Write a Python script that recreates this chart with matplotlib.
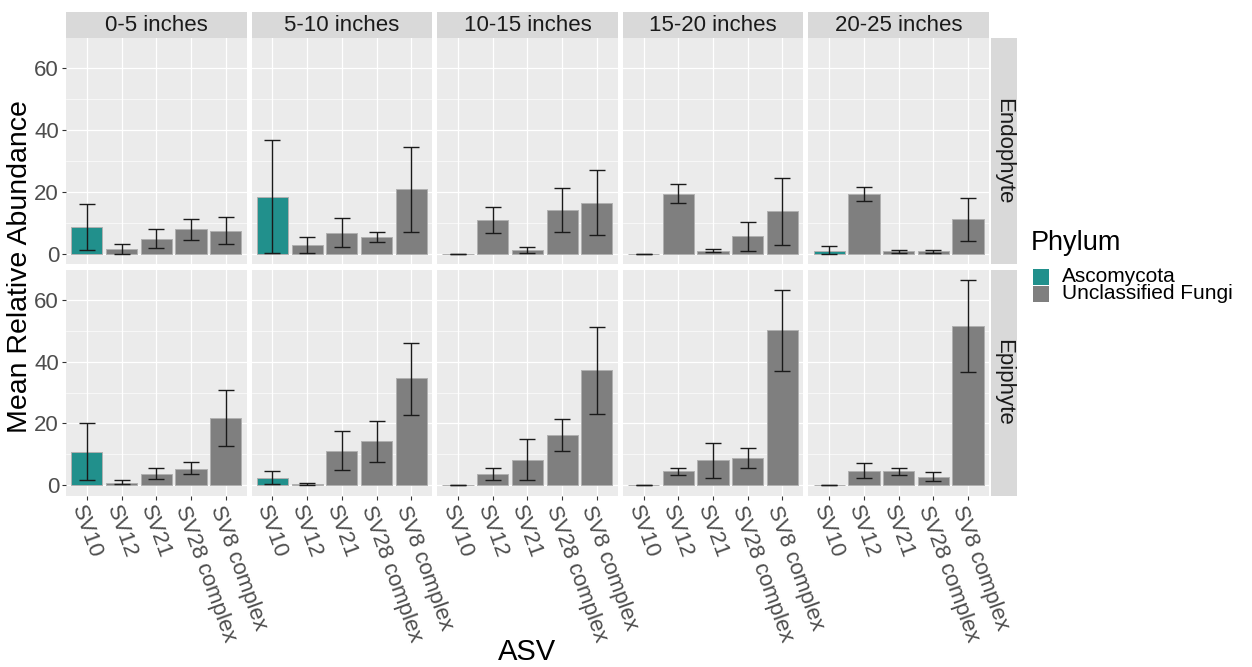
import matplotlib
matplotlib.use("Agg")
import matplotlib.pyplot as plt
from matplotlib.patches import Rectangle
import numpy as np

plt.rcParams['font.family'] = ['Liberation Sans', 'DejaVu Sans']

asv = ["SV10", "SV12", "SV21", "SV28 complex", "SV8 complex"]
asv_phylum = ["Ascomycota", "Unclassified Fungi", "Unclassified Fungi",
              "Unclassified Fungi", "Unclassified Fungi"]
depths = ["0-5 inches", "5-10 inches", "10-15 inches", "15-20 inches", "20-25 inches"]
niches = ["Endophyte", "Epiphyte"]

endo_mean = [[8.7, 1.6, 5.0, 8.1, 7.5],
             [18.3, 2.8, 6.9, 5.4, 20.9],
             [0.0, 10.9, 1.2, 14.2, 16.4],
             [0.0, 19.5, 1.1, 5.7, 13.8],
             [1.1, 19.5, 0.9, 0.9, 11.2]]
endo_lo = [[1.2, 0.0, 2.0, 4.6, 3.3],
           [0.2, 0.2, 2.2, 4.0, 7.2],
           [0.0, 6.8, 0.3, 7.0, 6.0],
           [0.0, 16.5, 0.8, 1.1, 3.0],
           [0.0, 17.3, 0.4, 0.3, 4.3]]
endo_hi = [[16.3, 3.4, 8.1, 11.4, 12.0],
           [36.8, 5.4, 11.7, 7.1, 34.7],
           [0.0, 15.2, 2.3, 21.5, 27.1],
           [0.0, 22.6, 1.7, 10.2, 24.6],
           [2.6, 21.8, 1.4, 1.4, 18.2]]

epi_mean = [[10.9, 0.9, 3.8, 5.4, 21.7],
            [2.4, 0.3, 11.1, 14.2, 34.6],
            [0.0, 3.6, 8.3, 16.3, 37.3],
            [0.0, 4.5, 8.1, 8.7, 50.1],
            [0.1, 4.7, 4.5, 2.6, 51.5]]
epi_lo = [[1.6, 0.3, 1.9, 3.6, 12.7],
          [0.3, 0.1, 5.0, 7.6, 22.9],
          [0.0, 1.7, 1.7, 11.1, 23.1],
          [0.0, 3.2, 2.3, 5.7, 36.9],
          [0.0, 2.5, 3.2, 1.3, 36.5]]
epi_hi = [[20.3, 1.6, 5.7, 7.5, 30.9],
          [4.6, 0.6, 17.7, 20.8, 46.1],
          [0.0, 5.5, 14.9, 21.4, 51.2],
          [0.0, 5.7, 13.7, 12.0, 63.2],
          [0.2, 7.2, 5.7, 4.2, 66.4]]

yticks = [0, 20, 40, 60]
phylum_colors = {"Ascomycota": "#21908C", "Unclassified Fungi": "#7F7F7F"}

W, H = 1252, 667
fig = plt.figure(figsize=(W / 100, H / 100), dpi=100)
fig.patch.set_facecolor("white")


def px_axes(x0, y0, x1, y1, **kw):
    return fig.add_axes([x0 / W, 1 - y1 / H, (x1 - x0) / W, (y1 - y0) / H], **kw)


col_left = [66 + i * 185.6 for i in range(5)]
col_w = 180.5
row_top = [38.4, 269.7]
row_bot = [264.3, 495.6]

all_max = max(max(max(r) for r in endo_hi), max(max(r) for r in epi_hi))
pad = all_max * 0.05
ylim = (-pad, all_max + pad)

means = [endo_mean, epi_mean]
los = [endo_lo, epi_lo]
his = [endo_hi, epi_hi]
x = np.arange(1, len(asv) + 1)
colors = [phylum_colors[p] for p in asv_phylum]

for r in range(2):
    for c in range(5):
        ax = px_axes(col_left[c], row_top[r], col_left[c] + col_w, row_bot[r])
        ax.set_facecolor("#EBEBEB")
        for s in ax.spines.values():
            s.set_visible(False)
        ax.set_xlim(0.4, 5.6)
        ax.set_ylim(*ylim)
        ax.set_axisbelow(True)
        for yv in [10, 30, 50]:
            ax.axhline(yv, color="white", lw=0.45, zorder=0)
        ax.set_yticks(yticks)
        ax.set_xticks(x)
        ax.grid(True, which="major", color="white", lw=0.9, zorder=0)
        m = np.array(means[r][c])
        lo = np.array(los[r][c])
        hi = np.array(his[r][c])
        ax.bar(x, m, width=0.9, color=colors, edgecolor="#B0B0B0", linewidth=0.7, zorder=2)
        ax.errorbar(x, m, yerr=[m - lo, hi - m], fmt="none", ecolor="#1A1A1A",
                    elinewidth=1.0, capsize=5.5, capthick=1.0, zorder=3)
        ax.tick_params(axis="both", length=3, width=0.8, color="#333333",
                       labelcolor="#4D4D4D", labelsize=16, pad=2)
        if c == 0:
            ax.set_yticklabels([str(v) for v in yticks])
        else:
            ax.tick_params(axis="y", labelleft=False, length=0)
        if r == 1:
            ax.set_xticklabels(asv, rotation=-70, ha="left", va="top",
                               rotation_mode="anchor")
        else:
            ax.tick_params(axis="x", labelbottom=False, length=0)

# column strips
for c in range(5):
    sax = px_axes(col_left[c], 12, col_left[c] + col_w, 38.4)
    sax.set_facecolor("#D9D9D9")
    sax.set_xticks([]); sax.set_yticks([])
    for s in sax.spines.values():
        s.set_visible(False)
    sax.text(0.5, 0.47, depths[c], ha="center", va="center", fontsize=16,
             color="#1A1A1A", transform=sax.transAxes)

# row strips
for r in range(2):
    sax = px_axes(990.5, row_top[r], 1017, row_bot[r])
    sax.set_facecolor("#D9D9D9")
    sax.set_xticks([]); sax.set_yticks([])
    for s in sax.spines.values():
        s.set_visible(False)
    sax.text(0.5, 0.5, niches[r], ha="center", va="center", fontsize=16,
             color="#1A1A1A", rotation=-90, transform=sax.transAxes)

# axis titles
fig.text(20 / W, 1 - 267 / H, "Mean Relative Abundance", rotation=90,
         ha="center", va="center", fontsize=20.5, color="black")
fig.text(527 / W, 1 - 652 / H, "ASV", ha="center", va="center",
         fontsize=21, color="black")

# legend
fig.text(1031 / W, 1 - 243 / H, "Phylum", ha="left", va="center",
         fontsize=19.5, color="black")
for i, (name, col) in enumerate(phylum_colors.items()):
    yc = 276.5 + i * 17
    fig.patches.append(Rectangle((1033 / W, 1 - (yc + 8) / H), 16 / W, 16 / H,
                                 transform=fig.transFigure, facecolor=col,
                                 edgecolor="none"))
    fig.text(1062 / W, 1 - yc / H, name, ha="left", va="center",
             fontsize=15, color="black")

fig.savefig("out.png", dpi=100)
